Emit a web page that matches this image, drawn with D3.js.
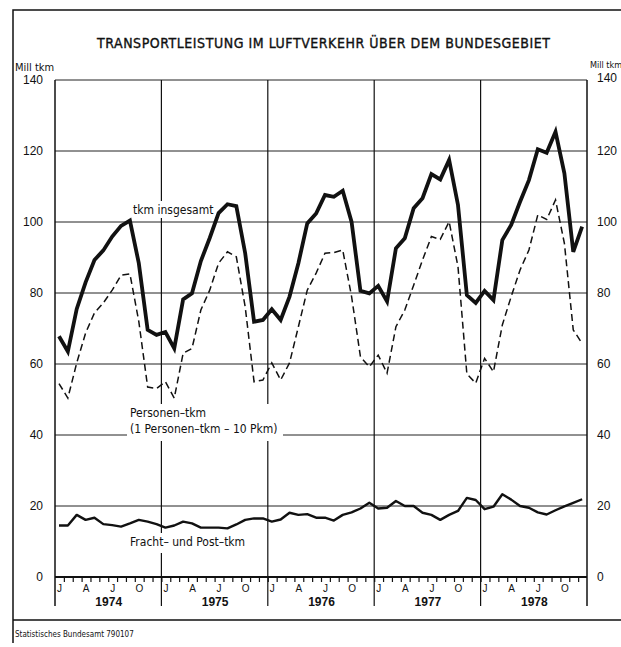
<!DOCTYPE html>
<html>
<head>
<meta charset="utf-8">
<script src="https://cdn.jsdelivr.net/npm/d3@7"></script>
<style>
  body { margin: 0; background: #fff; }
  svg { display: block; font-family: "Liberation Sans Narrow", "DejaVu Sans Condensed", "Liberation Sans", sans-serif; }
  .domain { display: none; }
</style>
</head>
<body>
<figure id="chart" style="margin:0"></figure>
<script>
const years = ["1974", "1975", "1976", "1977", "1978"];
const monthLabels = ["J", "A", "J", "O"];
const yTicks = [0, 20, 40, 60, 80, 100, 120, 140];

// Mill tkm per month, Jan 1974 .. Dec 1978
const tkmTotal = [
  67.8, 63.5, 75.5, 83, 89.3, 92, 95.9, 98.9, 100.4, 88.4, 69.6, 68.2,
  69, 64.4, 78.2, 79.9, 89, 95.5, 102.5, 105, 104.5, 91.2, 71.9, 72.4,
  75.4, 72.4, 79, 88.4, 99.6, 102.4, 107.6, 107.1, 108.8, 100, 80.6, 79.9,
  82, 77.6, 92.6, 95.4, 103.9, 106.7, 113.5, 112, 117.5, 104.8, 79.4, 77.2,
  80.6, 78, 94.9, 99.2, 105.7, 111.8, 120.5, 119.5, 125.4, 113.7, 91.6, 98.7
];
const personenTkm = [
  54.5, 50.4, 60.3, 68.7, 74.4, 77.2, 80.8, 85, 85.4, 72, 53.5, 53.1,
  55, 50.4, 63, 64.4, 75.2, 80.8, 88.4, 91.6, 90.2, 76.1, 55, 55.5,
  60.3, 55.5, 60.3, 70.5, 80.8, 85.6, 91.2, 91.4, 92.1, 79, 62, 59.2,
  62.5, 57.4, 70.5, 75.2, 82.2, 89.3, 95.9, 95.1, 100.1, 87.4, 57.2, 54.6,
  61.6, 57.8, 71, 79, 86.5, 92.1, 102, 100.7, 106.2, 94, 69.6, 65.8
];
const frachtTkm = [
  14.5, 14.5, 17.5, 16.1, 16.7, 14.9, 14.6, 14.2, 15.1, 16.1, 15.6, 14.9,
  13.9, 14.5, 15.6, 15.1, 13.9, 13.9, 13.9, 13.7, 14.8, 16.1, 16.5, 16.5,
  15.6, 16.2, 18.1, 17.5, 17.7, 16.7, 16.7, 15.9, 17.5, 18.2, 19.3, 20.9,
  19.3, 19.5, 21.4, 20, 20, 18.1, 17.5, 16.1, 17.5, 18.6, 22.3, 21.7,
  19.1, 19.8, 23.3, 21.8, 20, 19.5, 18.2, 17.6, 18.8, 19.9, 20.9, 21.9
];

const width = 621, height = 647;
const plotLeft = 55, plotRight = 587, plotTop = 80, plotBottom = 577;

const svg = d3.select("figure#chart")
  .append("svg")
  .attr("width", width)
  .attr("height", height);

const x = d3.scaleLinear().domain([0, 60]).range([plotLeft, plotRight]);
const y = d3.scaleLinear().domain([0, 140]).range([plotBottom, plotTop]);

// page frame
svg.append("path")
  .attr("d", "M640,10 H13 V643 M13,620 H640")
  .attr("fill", "none")
  .attr("stroke", "#111")
  .attr("stroke-width", 1.5);

svg.append("text")
  .text("TRANSPORTLEISTUNG IM LUFTVERKEHR ÜBER DEM BUNDESGEBIET")
  .attr("x", 97).attr("y", 48)
  .attr("textLength", 453).attr("lengthAdjust", "spacing")
  .style("font-family", "'DejaVu Sans Condensed', 'DejaVu Sans', sans-serif")
  .style("font-size", "14px")
  .attr("fill", "#111")
  .attr("stroke", "#111").attr("stroke-width", 0.35);

// grid
svg.append("g")
  .selectAll("line")
  .data(yTicks.filter(d => d > 0))
  .enter()
  .append("line")
  .attr("x1", plotLeft).attr("x2", plotRight)
  .attr("y1", d => y(d)).attr("y2", d => y(d))
  .attr("stroke", "#222").attr("stroke-width", 1);

svg.append("g")
  .selectAll("line")
  .data(d3.range(0, 61, 12))
  .enter()
  .append("line")
  .attr("x1", d => x(d)).attr("x2", d => x(d))
  .attr("y1", plotTop).attr("y2", 606)
  .attr("stroke", "#111").attr("stroke-width", d => (d === 0 || d === 60) ? 1.5 : 1.2);

svg.append("line")
  .attr("x1", plotLeft).attr("x2", plotRight)
  .attr("y1", y(0)).attr("y2", y(0))
  .attr("stroke", "#111").attr("stroke-width", 2);

// value axes
const leftAxis = svg.append("g")
  .attr("transform", "translate(" + plotLeft + ",0)")
  .call(d3.axisLeft(y).tickValues(yTicks).tickSize(0).tickPadding(12));
const rightAxis = svg.append("g")
  .attr("transform", "translate(" + plotRight + ",0)")
  .call(d3.axisRight(y).tickValues(yTicks).tickSize(0).tickPadding(10));
rightAxis.selectAll(".tick").filter(d => d === 140).select("text").attr("dy", "0.1em");
[leftAxis, rightAxis].forEach(a => a.selectAll("text")
  .style("font-size", "12px").attr("fill", "#111"));

svg.append("text").text("Mill tkm").attr("x", 15).attr("y", 71)
  .style("font-size", "11px").attr("fill", "#111");
svg.append("text").text("Mill tkm").attr("x", 590).attr("y", 68)
  .style("font-size", "9px").attr("fill", "#111");

// time axis
svg.append("g")
  .attr("transform", "translate(0," + plotBottom + ")")
  .call(d3.axisBottom(x).tickValues(d3.range(1, 60)).tickSize(5).tickFormat(""))
  .selectAll("line").attr("stroke", "#111").attr("stroke-width", 1.2);

const quarters = d3.range(0, 60, 3);
svg.append("g")
  .attr("transform", "translate(0," + plotBottom + ")")
  .call(d3.axisBottom(x)
    .tickValues(quarters.map(d => d + 0.45))
    .tickSize(0).tickPadding(8)
    .tickFormat((d, i) => monthLabels[i % 4]))
  .selectAll("text").style("font-size", "10px").attr("fill", "#111");

svg.append("g")
  .attr("transform", "translate(0," + plotBottom + ")")
  .call(d3.axisBottom(x)
    .tickValues(years.map((d, i) => i * 12 + 6))
    .tickSize(0).tickPadding(20)
    .tickFormat((d, i) => years[i]))
  .selectAll("text").style("font-size", "12px").style("font-weight", "bold").attr("fill", "#111");

// series labels with white backing
const labels = [
  {lines: ["tkm insgesamt"], x: 133, y: 214, w: 82, h: 17},
  {lines: ["Personen\u2013tkm", "(1 Personen\u2013tkm \u2013 10 Pkm)"], x: 130, y: 417, w: 156, h: 37},
  {lines: ["Fracht\u2013 und Post\u2013tkm"], x: 130, y: 546, w: 126, h: 20}
];
labels.forEach(l => {
  svg.append("rect")
    .attr("x", l.x - 3).attr("y", l.y - 13)
    .attr("width", l.w).attr("height", l.h)
    .attr("fill", "#fff");
  l.lines.forEach((t, i) => {
    svg.append("text").text(t)
      .attr("x", l.x).attr("y", l.y + i * 16)
      .style("font-size", "12px").attr("fill", "#111");
  });
});

const line = d3.line()
  .x((d, i) => x(i + 0.45))
  .y(d => y(d))
  .curve(d3.curveLinear);

svg.append("path").datum(personenTkm)
  .attr("d", line)
  .attr("fill", "none").attr("stroke", "#111")
  .attr("stroke-width", 1.5).attr("stroke-dasharray", "7,4");

svg.append("path").datum(frachtTkm)
  .attr("d", line)
  .attr("fill", "none").attr("stroke", "#111")
  .attr("stroke-width", 2.4).attr("stroke-linejoin", "round");

svg.append("path").datum(tkmTotal)
  .attr("d", line)
  .attr("fill", "none").attr("stroke", "#111")
  .attr("stroke-width", 3.8).attr("stroke-linejoin", "miter");

svg.append("text").text("Statistisches Bundesamt 790107")
  .attr("x", 15).attr("y", 637)
  .style("font-size", "8px").attr("fill", "#111");
</script>
</body>
</html>
